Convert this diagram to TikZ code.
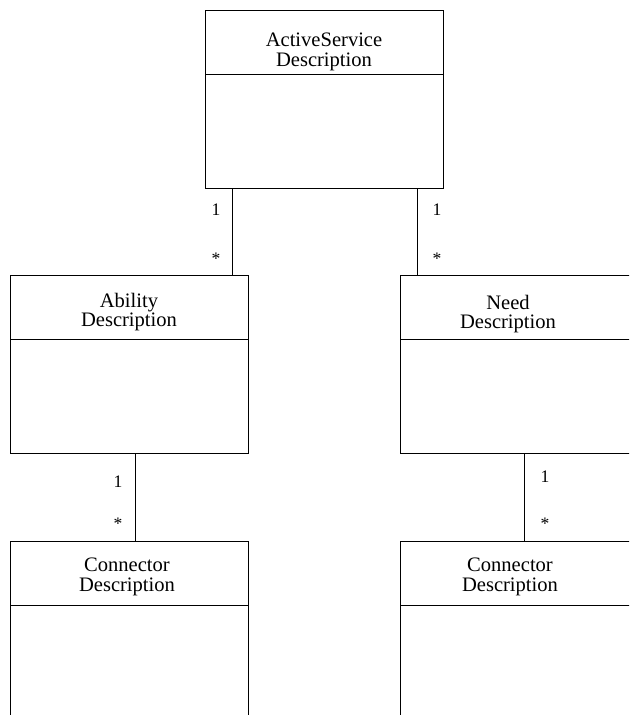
\documentclass[tikz,border=0pt]{standalone}
\usepackage{fontspec}
\setmainfont{Liberation Serif}
\tikzset{
	umlbox/.style={draw, line width=.5pt, minimum width=4.76cm, minimum height=3.56cm, inner sep=0, anchor=north west},
	boxtitle/.style={align=center, font=\fontsize{11.7}{11}\selectfont, inner sep=0},
	mult/.style={font=\normalsize, inner sep=0}
}
\begin{document}
\begin{tikzpicture}
		\clip (0,0) rectangle (12.58,14.3);
		\node[umlbox] (act) at (4.1,14.1) {};
		\node[umlbox] (abl) at (.2,8.8) {};
		\node[umlbox] (need) at (8,8.8) {};
		\node[umlbox] (conl) at (.2,3.48) {};
		\node[umlbox] (conr) at (8,3.48) {};
		\foreach \b in {act,abl,need,conl,conr}
			\draw[line width=.5pt] ([yshift=-1.28cm]\b.north west) -- ([yshift=-1.28cm]\b.north east);
		\node[boxtitle] (actT) at (6.48,13.26) {ActiveService\\Description};
		\node[boxtitle] (ablT) at (2.58,8.06) {Ability\\Description};
		\node[boxtitle] (needT) at (10.16,8.02) {Need\\Description};
		\node[boxtitle] (conlT) at (2.54,2.76) {Connector\\Description};
		\node[boxtitle] (conrT) at (10.2,2.76) {Connector\\Description};
		% associations
		\draw[line width=.5pt] ([xshift=.54cm]act.south west) -- ([xshift=.54cm]act.south west |- abl.north);
		\draw[line width=.5pt] ([xshift=-.52cm]act.south east) -- ([xshift=-.52cm]act.south east |- need.north);
		\draw[line width=.5pt] ([xshift=.12cm]abl.south) -- ([xshift=.12cm]abl.south |- conl.north);
		\draw[line width=.5pt] ([xshift=.1cm]need.south) -- ([xshift=.1cm]need.south |- conr.north);
		\node[mult] (m1) at (4.32,10.1) {1};
		\node[mult] (m2) at (4.32,9.12) {*};
		\node[mult] (m3) at (8.74,10.1) {1};
		\node[mult] (m4) at (8.74,9.12) {*};
		\node[mult] (m5) at (2.36,4.66) {1};
		\node[mult] (m6) at (2.36,3.82) {*};
		\node[mult] (m7) at (10.9,4.76) {1};
		\node[mult] (m8) at (10.9,3.82) {*};
	\end{tikzpicture}
\end{document}
